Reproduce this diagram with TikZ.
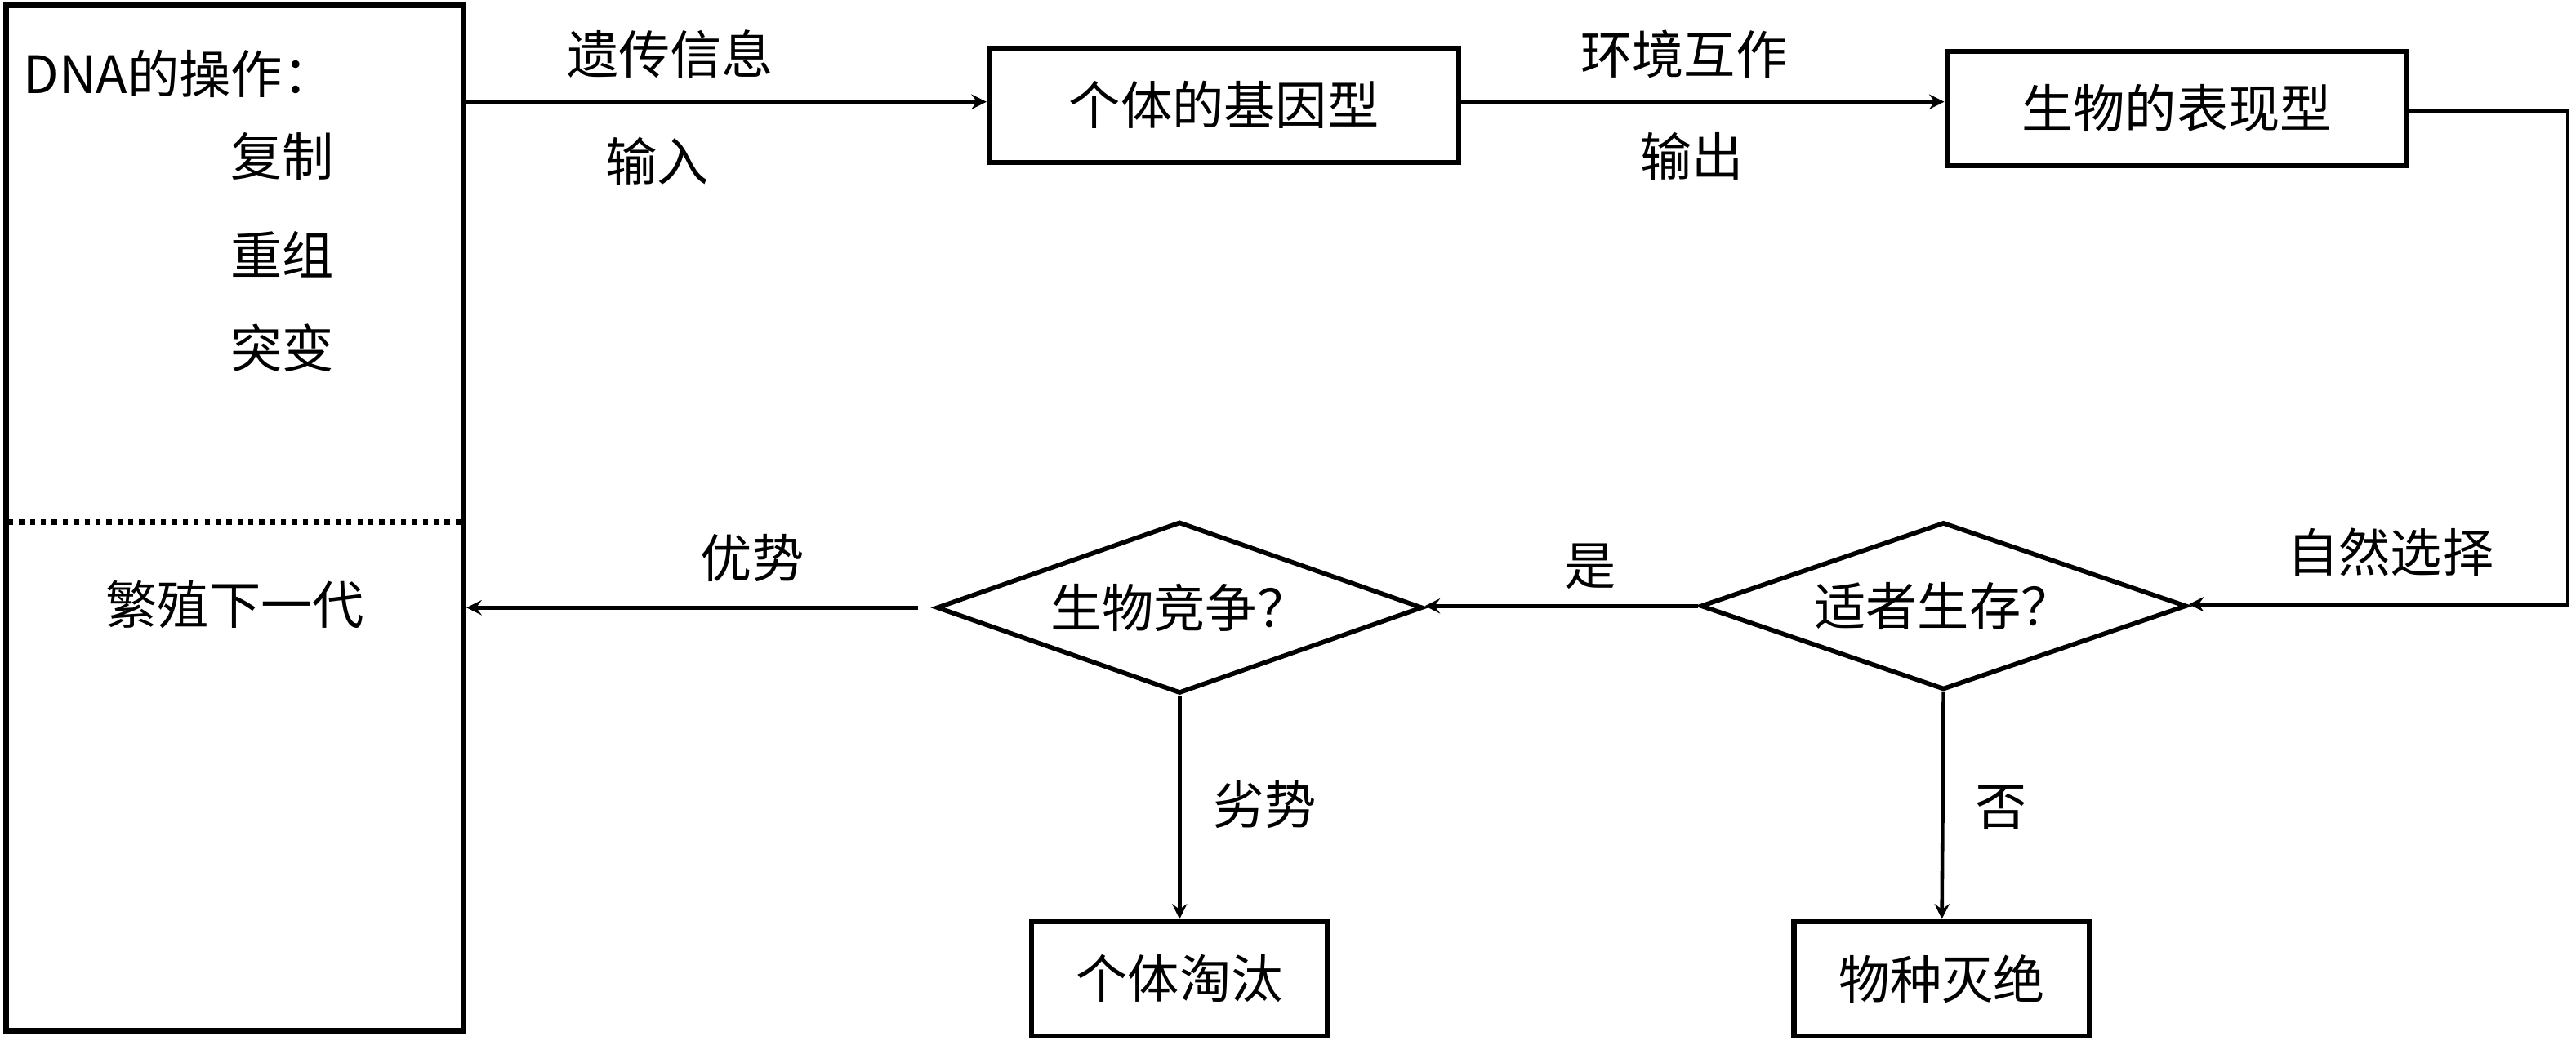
\documentclass[tikz,border=0pt]{standalone}
\usepackage{fontspec}
\setmainfont{Noto Sans CJK SC}
\usetikzlibrary{shapes.geometric}
\begin{document}
\begin{tikzpicture}[x=0.020115cm,y=-0.020115cm,
  box/.style={draw,line width=1.8pt,minimum height=1.4cm,inner sep=0pt},
  dia/.style={draw,diamond,line width=1.6pt,aspect=2.9,inner sep=2pt},
  arr/.style={->,line width=1.3pt,>=stealth},
  every node/.style={font=\fontsize{18}{20}\selectfont}]
\useasboundingbox (0,0) rectangle (1568,636.3);
\node[draw,line width=2pt,minimum width=5.6cm,minimum height=12.55cm,inner sep=0pt] (L) at (143,315.5) {};
\draw[dotted,line width=1.8pt] (5,318) -- (281,318);
\node[anchor=west] (t0) at (8,45) {DNA的操作：};
\node (t1) at (172,95) {复制};
\node (t2) at (172,155) {重组};
\node (t3) at (172,212) {突变};
\node (t4) at (143,368) {繁殖下一代};
\node[box,minimum width=5.75cm] (G) at (745,64) {个体的基因型};
\node[box,minimum width=5.63cm] (P) at (1325,66) {生物的表现型};
\node[dia,minimum width=5.95cm,minimum height=2.05cm] (S) at (1183,369) {适者生存？};
\node[dia,minimum width=5.95cm,minimum height=2.1cm] (C) at (718,370) {生物竞争？};
\node[box,minimum width=3.62cm] (E1) at (718,596) {个体淘汰};
\node[box,minimum width=3.62cm] (E2) at (1182,596) {物种灭绝};
\coordinate (c1) at (1563,68);
\coordinate (c2) at (1563,368);
\draw[arr] (283,62) -- (G.west|-283,62);
\draw[arr] (G.east|-0,62) -- (P.west|-0,62);
\draw[arr] (P.east|-0,68) -- (c1) -- (c2) -- (S.east|-c2);
\draw[arr] (S.west) -- ++(-15,0) coordinate (sw) -- (C.east|-sw);
\draw[arr] (C.west) ++(-10,0) -- (L.east|-0,370);
\draw[arr] (C.south) -- (E1.north);
\draw[arr] (S.south) -- (E2.north);
\node (l1) at (408,33) {遗传信息};
\node (l2) at (400,98) {输入};
\node (l3) at (1025,33) {环境互作};
\node (l4) at (1030,95) {输出};
\node (l5) at (1455,336) {自然选择};
\node (l6) at (968,345) {是};
\node (l7) at (458,340) {优势};
\node (l8) at (770,490) {劣势};
\node (l9) at (1218,492) {否};
\end{tikzpicture}
\end{document}
